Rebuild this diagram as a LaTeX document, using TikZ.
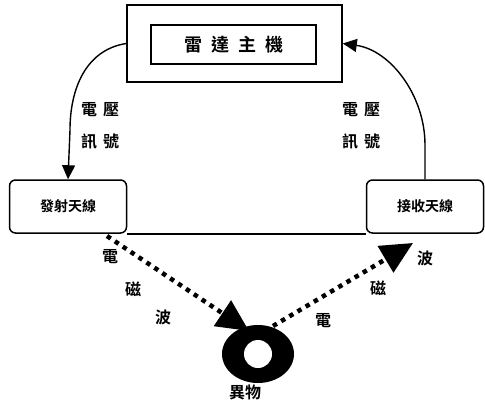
\documentclass[tikz,border=0pt]{standalone}
\usepackage{fontspec}
\newfontfamily\cjk{Noto Sans CJK TC}[BoldFont={Noto Sans CJK TC Bold}]
\usetikzlibrary{arrows.meta,shapes.geometric}
\begin{document}
\begin{tikzpicture}[x=1pt,y=-1pt,
  box/.style={draw, line width=1.6pt, inner sep=0pt},
  antenna/.style={draw, line width=1.5pt, rounded corners=6pt, minimum width=117pt, minimum height=53pt, inner sep=0pt, font=\cjk\fontsize{14}{14}\selectfont\bfseries},
  lbl/.style={font=\cjk\fontsize{16}{16}\selectfont\bfseries, inner sep=0pt},
  sig/.style={line width=1.4pt, -{Triangle[length=14pt,width=13pt]}},
  wave/.style={line width=4.5pt, dash pattern=on 4.5pt off 5pt, -{Triangle[length=32pt,width=30pt]}}]
\useasboundingbox[fill=white] (0,0) rectangle (485,404);
\node[box, minimum width=215pt, minimum height=77pt] (outer) at (234.5,43.5) {};
\node[box, minimum width=165pt, minimum height=39pt, font=\cjk\fontsize{18}{18}\selectfont\bfseries] (inner) at (233.5,44.5) {雷\hspace{9pt}達\hspace{9pt}主\hspace{9pt}機};
\node[antenna] (tx) at (68,206.5) {發射天線};
\node[antenna] (rx) at (425,206.5) {接收天線};
\draw[line width=1.6pt] (tx.south east) -- (rx.south west);
\node[lbl] (a1) at (100,110) {電\hspace{6pt}壓};
\node[lbl] (a2) at (100,141) {訊\hspace{6pt}號};
\node[lbl] (b1) at (361,110) {電\hspace{6pt}壓};
\node[lbl] (b2) at (361,141) {訊\hspace{6pt}號};
\draw[sig] (outer.west) .. controls (85,50) and (70,90) .. (70,130) -- (tx.north);
\draw[sig] (rx.north) -- (425,145) .. controls (425,95) and (390,50) .. (outer.east);
\node[ellipse, fill=black, minimum width=72pt, minimum height=58pt, inner sep=0pt] (tgt) at (258,354) {};
\node[circle, fill=white, minimum size=28pt, inner sep=0pt] (hole) at (tgt.center) {};
\node[lbl] (tname) at (245,392) {異物};
\coordinate (s1) at (107,236);
\coordinate (e1) at (249,331);
\coordinate (s2) at (273,326);
\coordinate (e2) at (413,243);
\draw[wave] (s1) -- (e1);
\draw[wave] (s2) -- (e2);
\node[lbl] (w1) at (110,257) {電};
\node[lbl] (w2) at (133,289) {磁};
\node[lbl] (w3) at (163,317) {波};
\node[lbl] (w4) at (323,321) {電};
\node[lbl] (w5) at (378,288) {磁};
\node[lbl] (w6) at (425,258) {波};
\end{tikzpicture}
\end{document}
